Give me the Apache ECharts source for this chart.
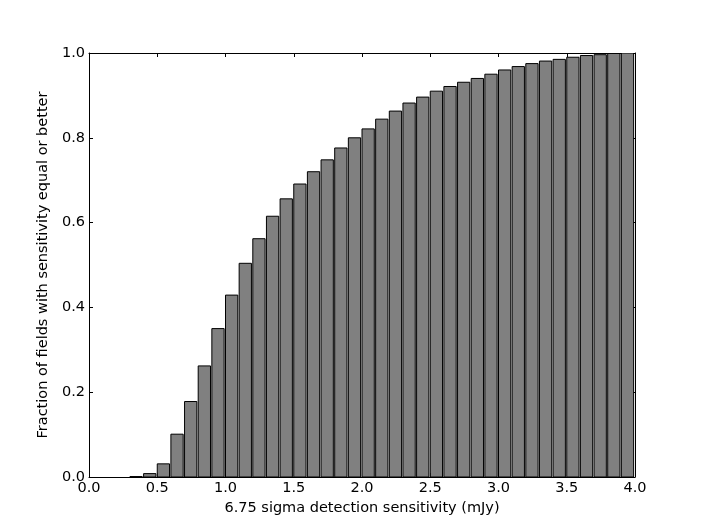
<!DOCTYPE html>
<html>
<head>
<meta charset="utf-8">
<script src="https://cdn.jsdelivr.net/npm/echarts@6/dist/echarts.min.js"></script>
<style>
  html, body { margin: 0; padding: 0; background: #fff; }
  #chart { width: 706px; height: 530px; }
</style>
</head>
<body>
<div id="chart"></div>
<script>
// left edges of the bins (mJy) and cumulative fraction in each one
let binLeft = [0.0, 0.1, 0.2, 0.3, 0.4, 0.5, 0.6, 0.7, 0.8, 0.9,
               1.0, 1.1, 1.2, 1.3, 1.4, 1.5, 1.6, 1.7, 1.8, 1.9,
               2.0, 2.1, 2.2, 2.3, 2.4, 2.5, 2.6, 2.7, 2.8, 2.9,
               3.0, 3.1, 3.2, 3.3, 3.4, 3.5, 3.6, 3.7, 3.8, 3.9]
let fraction = [0, 0, 0, 0.001, 0.008, 0.031, 0.101, 0.178, 0.262, 0.350,
                0.429, 0.504, 0.562, 0.615, 0.656, 0.691, 0.720, 0.748, 0.776, 0.800,
                0.821, 0.844, 0.863, 0.882, 0.896, 0.910, 0.921, 0.931, 0.940, 0.950,
                0.960, 0.968, 0.975, 0.981, 0.985, 0.990, 0.994, 0.996, 0.999, 1.0]
let binWidth = 0.09
let xTicks = [0, 0.5, 1.0, 1.5, 2.0, 2.5, 3.0, 3.5, 4.0]
let yTicks = [0, 0.2, 0.4, 0.6, 0.8, 1.0]

let myChart = echarts.init(document.getElementById('chart'))

let data = []
for (let i in binLeft) {
    data.push([binLeft[i], fraction[i]])
}

let font = 'DejaVu Sans'
let fs = 14.5
let axisLine = { show: true, onZero: false, lineStyle: { color: '#000', width: 1 } }
let tick = { show: true, inside: true, length: 4, lineStyle: { color: '#000' } }

let option = {
    animation: false,
    backgroundColor: '#fff',
    grid: { left: 89, right: 71, top: 53, bottom: 53, outerBoundsMode: 'none' },
    xAxis: [
        {
            type: 'value', min: 0, max: 4, interval: 0.5,
            name: '6.75 sigma detection sensitivity (mJy)',
            nameLocation: 'middle', nameGap: 22,
            nameTextStyle: { fontFamily: font, fontSize: fs, color: '#000' },
            axisLine: axisLine, axisTick: tick, splitLine: { show: false },
            axisLabel: { fontFamily: font, fontSize: fs, color: '#000', margin: 4,
                         formatter: v => v.toFixed(1) }
        },
        {
            type: 'value', min: 0, max: 4, interval: 0.5, position: 'top',
            axisLine: axisLine, axisTick: tick, splitLine: { show: false },
            axisLabel: { show: false }
        }
    ],
    yAxis: [
        {
            type: 'value', min: 0, max: 1, interval: 0.2,
            name: 'Fraction of fields with sensitivity equal or better',
            nameLocation: 'middle', nameGap: 28,
            nameTextStyle: { fontFamily: font, fontSize: fs, color: '#000' },
            axisLine: axisLine, axisTick: tick, splitLine: { show: false },
            axisLabel: { fontFamily: font, fontSize: fs, color: '#000', margin: 4,
                         formatter: v => v.toFixed(1) }
        },
        {
            type: 'value', min: 0, max: 1, interval: 0.2, position: 'right',
            axisLine: axisLine, axisTick: tick, splitLine: { show: false },
            axisLabel: { show: false }
        }
    ],
    series: [
        {
            type: 'custom',
            clip: true,
            data: data,
            renderItem: function (params, api) {
                if (api.value(1) <= 0) return null
                let x0 = api.value(0)
                let p0 = api.coord([x0, api.value(1)])
                let p1 = api.coord([x0 + binWidth, 0])
                return {
                    type: 'rect',
                    shape: { x: p0[0], y: p0[1], width: p1[0] - p0[0], height: p1[1] - p0[1] },
                    style: { fill: '#808080', stroke: '#000', lineWidth: 1 }
                }
            }
        }
    ]
}

myChart.setOption(option)
</script>
</body>
</html>
